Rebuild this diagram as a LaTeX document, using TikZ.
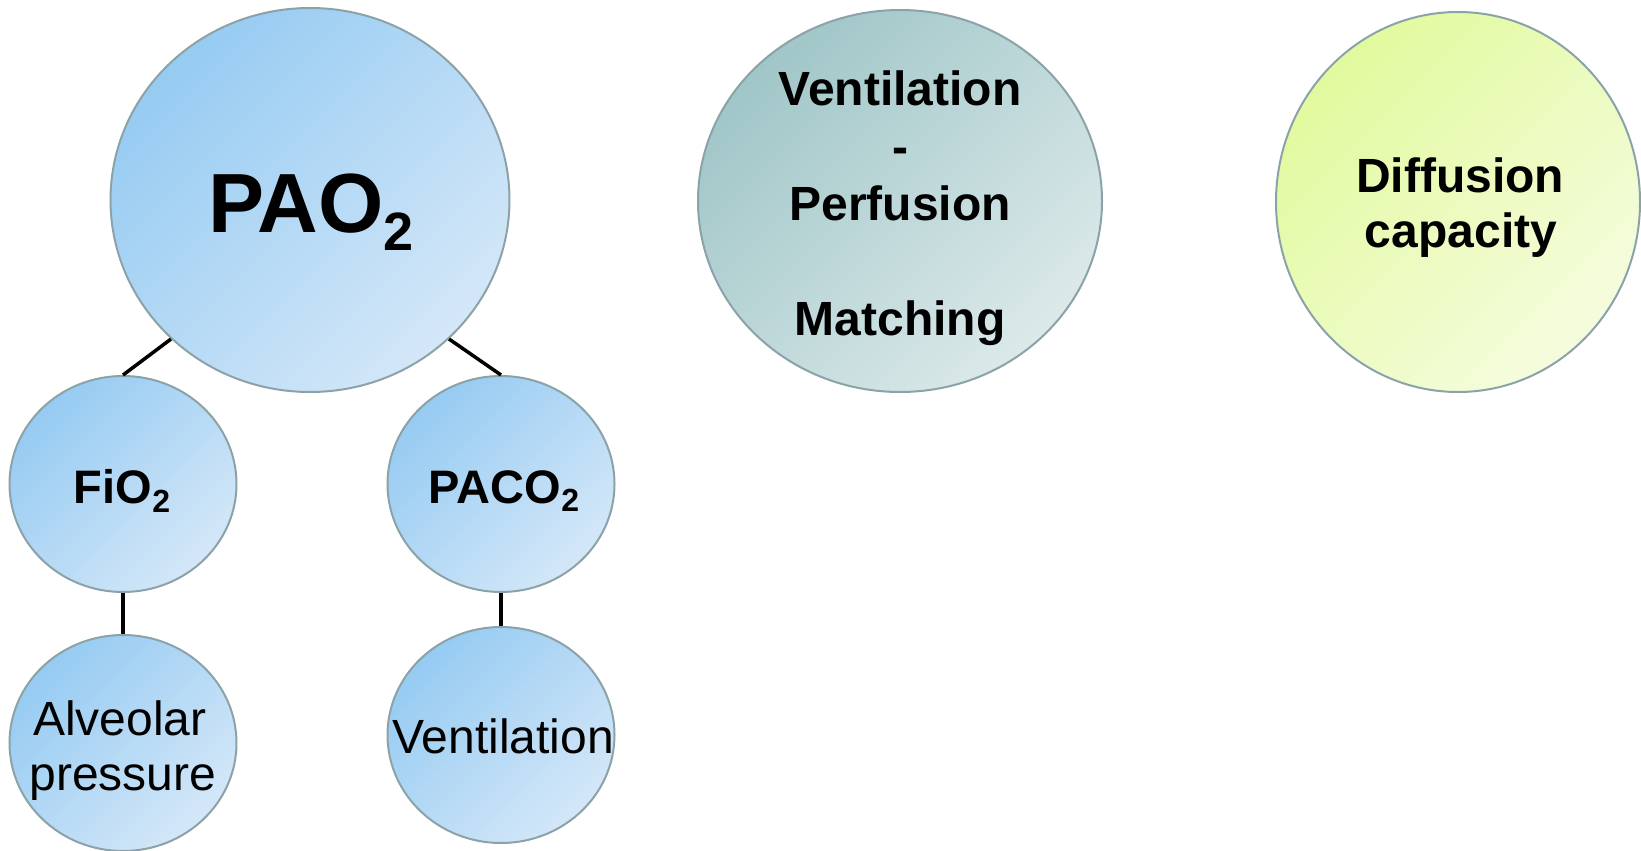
\documentclass[tikz,border=0pt]{standalone}
\usepackage{fontspec}
\setmainfont{Liberation Sans}
\usetikzlibrary{shapes.geometric}
\definecolor{blueA}{RGB}{150,203,242}
\definecolor{blueB}{RGB}{212,231,248}
\definecolor{tealA}{RGB}{160,198,200}
\definecolor{tealB}{RGB}{220,233,233}
\definecolor{greenA}{RGB}{226,250,158}
\definecolor{greenB}{RGB}{245,252,222}
\definecolor{rim}{RGB}{139,163,168}
\tikzset{
  bub/.style={ellipse, draw=rim, line width=2pt, inner sep=0pt},
  bluebub/.style={bub, top color=blueA, bottom color=blueB, shading angle=45},
  tealbub/.style={bub, top color=tealA, bottom color=tealB, shading angle=45},
  greenbub/.style={bub, top color=greenA, bottom color=greenB, shading angle=45},
  small/.style={minimum width=227pt, minimum height=216pt},
  txt/.style={anchor=base, inner sep=0pt, text=black},
  bt/.style={txt, font=\bfseries\fontsize{48}{52}\selectfont},
  rt/.style={txt, font=\fontsize{48}{52}\selectfont},
  link/.style={line width=3.5pt, black}
}
\newcommand{\subtwo}[2]{\raisebox{-#2pt}{\fontsize{#1}{#1}\selectfont 2}}
\begin{document}
\begin{tikzpicture}[x=1pt, y=-1pt]
\useasboundingbox (0,0) rectangle (1641,851);
% bubbles
\node[bluebub, minimum width=399pt, minimum height=384pt] (pao) at (310,200) {};
\node[tealbub, minimum width=404pt, minimum height=382pt] (vq) at (900,201) {};
\node[greenbub, minimum width=364pt, minimum height=380pt] (dc) at (1458,202) {};
\node[bluebub, small] (fio) at (123,484) {};
\node[bluebub, small] (paco) at (501,484) {};
\node[bluebub, small] (alv) at (123,743) {};
\node[bluebub, small] (vent) at (501,735) {};
% connectors
\draw[link] (pao.-135) -- (fio.north);
\draw[link] (pao.-45) -- (paco.north);
\draw[link] (fio.south) -- (alv.north);
\draw[link] (paco.south) -- (vent.north);
% texts
\node[txt, font=\bfseries\fontsize{84}{84}\selectfont] (paot) at (311,232) {PAO\subtwo{54}{18}};
\node[bt] (vq1) at (900,106) {Ventilation};
\node[bt] (vq2) at (900,163) {-};
\node[bt] (vq3) at (900,220) {Perfusion};
\node[bt] (vq4) at (900,335) {Matching};
\node[bt] (dc1) at (1460,192) {Diffusion};
\node[bt] (dc2) at (1461,247) {capacity};
\node[txt, font=\bfseries\fontsize{47}{50}\selectfont] (fiot) at (122,503) {FiO\subtwo{32}{9}};
\node[txt, font=\bfseries\fontsize{47}{50}\selectfont] (pacot) at (504,503) {PACO\subtwo{32}{8}};
\node[rt] (alv1) at (120,735) {Alveolar};
\node[rt] (alv2) at (123,790) {pressure};
\node[rt] (ventt) at (503,753) {Ventilation};
\end{tikzpicture}
\end{document}
